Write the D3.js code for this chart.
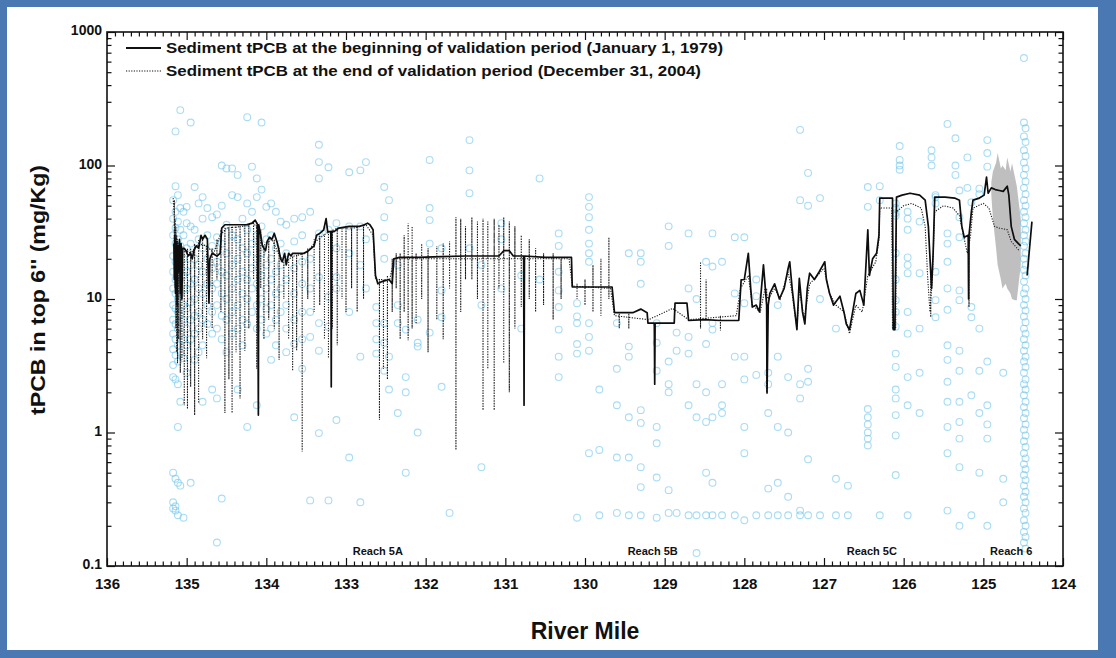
<!DOCTYPE html>
<html>
<head>
<meta charset="utf-8">
<script src="https://cdn.jsdelivr.net/npm/d3@7"></script>
<style>
  html, body { margin: 0; padding: 0; background: #4a78b2; }
  svg { display: block; }
  text { font-family: "Liberation Sans", Arial, Helvetica, sans-serif; }
</style>
</head>
<body>
<svg id="chart" width="1116" height="658"></svg>
<script>
// ---- River-mile axis and tPCB decades ----
const mileTicks = [136, 135, 134, 133, 132, 131, 130, 129, 128, 127, 126, 125, 124];
const decadeTicks = [0.1, 1, 10, 100, 1000];
const decadeLabels = ["0.1", "1", "10", "100", "1000"];

// ---- Reach labels ----
const reachNames = ["Reach 5A", "Reach 5B", "Reach 5C", "Reach 6"];
const reachMiles = [132.6, 129.15, 126.4, 124.65];

// ---- Legend ----
const legendLabels = [
  "Sediment tPCB at the beginning of validation period (January 1, 1979)",
  "Sediment tPCB at the end of validation period (December 31, 2004)"
];

// ---- Model profile, January 1, 1979 (mile, mg/kg); null breaks the line ----
const beginProfile = [
  [135.16, 26], [135.155, 14], [135.15, 30], [135.14, 11], [135.13, 27], [135.12, 9],
  [135.11, 25], [135.10, 16], [135.09, 28], [135.08, 11], [135.07, 26], [135.06, 10],
  [135.05, 24], [135.03, 24], [135.01, 23], [134.98, 21], [134.95, 22], [134.93, 20],
  [134.91, 23], [134.88, 25], [134.85, 24], [134.82, 30], [134.80, 28], [134.77, 30],
  [134.74, 28], [134.72, 9.3], [134.71, 20], [134.68, 22], [134.62, 21], [134.58, 22],
  [134.56, 34], [134.52, 36], [134.40, 36], [134.25, 36], [134.18, 37], [134.14, 39],
  [134.11, 36], [134.10, 1.35], [134.095, 36], [134.07, 30], [134.05, 25], [134.01, 23],
  [133.99, 27], [133.96, 29], [133.93, 28], [133.90, 31], [133.86, 26], [133.82, 20],
  [133.80, 19], [133.77, 22], [133.75, 18], [133.72, 22], [133.69, 21], [133.67, 22],
  [133.60, 22], [133.53, 22], [133.47, 23], [133.40, 25], [133.37, 30], [133.33, 31],
  [133.28, 33], [133.25, 40], [133.23, 32], [133.19, 32], [133.185, 2.2], [133.18, 32],
  [133.15, 32], [133.09, 34], [132.96, 35], [132.83, 35], [132.77, 36], [132.73, 37],
  [132.70, 36], [132.66, 33], [132.63, 15], [132.60, 13], [132.55, 13.5], [132.46, 14],
  [132.42, 13], [132.40, 20], [132.33, 20.5], [132.10, 20.5], [131.80, 20.8],
  [131.50, 21], [131.30, 21], [131.08, 21], [131.02, 23], [130.95, 23], [130.90, 21],
  [130.77, 21], [130.765, 1.6], [130.76, 21], [130.50, 20.5], [130.17, 20.5],
  [130.16, 12.3], [129.66, 12.3], [129.63, 7.9], [129.40, 7.9], [129.30, 8.4],
  [129.22, 7.9], [129.21, 6.6], [129.13, 6.6], [129.125, 2.3], [129.12, 6.6],
  [128.88, 6.6], [128.87, 9.3], [128.72, 9.3], [128.70, 6.9], [128.50, 7.0],
  [128.30, 6.9], [128.07, 6.9], [128.04, 13.9], [128.00, 14], [127.95, 22],
  [127.92, 12], [127.90, 8.7], [127.85, 9], [127.81, 8], [127.76, 18], [127.72, 9],
  [127.715, 1.98], [127.70, 9], [127.68, 11], [127.62, 13], [127.56, 10], [127.50, 12],
  [127.45, 17], [127.43, 19], [127.40, 12], [127.34, 5.9], [127.31, 14.3], [127.27, 8],
  [127.24, 6.5], [127.21, 12], [127.18, 15.6], [127.12, 14], [127.06, 16], [126.99, 19],
  [126.97, 14], [126.93, 11], [126.88, 9], [126.80, 10.5], [126.75, 8], [126.72, 6.5],
  [126.68, 5.9], [126.64, 8], [126.60, 11], [126.55, 11.6], [126.50, 9], [126.45, 33],
  [126.43, 15], [126.39, 20], [126.34, 22], [126.31, 30], [126.30, 57], [126.14, 57],
  [126.13, 5.9], [126.11, 5.9], [126.09, 58], [126.02, 60], [125.92, 62], [125.80, 60],
  [125.73, 55], [125.69, 35], [125.67, 20.5], [125.65, 12], [125.63, 22], [125.61, 58],
  [125.48, 58], [125.36, 57], [125.30, 55], [125.27, 35], [125.24, 29], [125.19, 30],
  [125.185, 10], [125.18, 30], [125.15, 45], [125.13, 55], [125.05, 57], [124.99, 60],
  [124.96, 82], [124.94, 62], [124.90, 68], [124.85, 66], [124.80, 65], [124.75, 64],
  [124.70, 70], [124.68, 60], [124.65, 35], [124.61, 28], [124.56, 26], [124.53, 25],
  [124.50, null], [124.45, 15], [124.42, 24], [124.39, 38]
];

// ---- Model profile, December 31, 2004: underlying level (mile, mg/kg) ----
const endBase = [
  [135.17, 57], [135.14, 30], [135.10, 25], [135.05, 24], [134.95, 22], [134.85, 26],
  [134.75, 25], [134.66, 22], [134.58, 30], [134.50, 34], [134.30, 35], [134.16, 37],
  [134.10, 33], [134.04, 25], [133.93, 28], [133.85, 22], [133.78, 19], [133.65, 21],
  [133.50, 22], [133.38, 27], [133.25, 31], [133.10, 34], [132.90, 34], [132.75, 36],
  [132.66, 30], [132.63, 14], [132.45, 14], [132.40, 20], [130.20, 20], [130.16, 12.5],
  [129.68, 12], [129.63, 7.5], [129.20, 7], [128.90, 8.5], [128.70, 7], [128.10, 7.5],
  [128.05, 12], [127.95, 15], [127.90, 9], [127.80, 8], [127.74, 12], [127.70, 10],
  [127.62, 12], [127.55, 10], [127.45, 16], [127.40, 11], [127.34, 6], [127.31, 12],
  [127.25, 7], [127.18, 13], [127.08, 15], [127.00, 17], [126.93, 11], [126.85, 9],
  [126.75, 8], [126.68, 5.5], [126.60, 9], [126.52, 8], [126.45, 15], [126.35, 19],
  [126.31, 28], [126.30, 48], [126.15, 48], [126.14, 6], [126.10, 6], [126.09, 45],
  [126.00, 50], [125.90, 52], [125.78, 48], [125.73, 35], [125.70, 15], [125.67, 8],
  [125.64, 14], [125.61, 45], [125.50, 50], [125.38, 48], [125.30, 42], [125.25, 30],
  [125.20, 22], [125.16, 30], [125.13, 48], [125.00, 52], [124.93, 48], [124.86, 35],
  [124.80, 34], [124.70, 33], [124.65, 27], [124.55, 23]
];

// ---- December 31, 2004: vertical excursions at single cells [mile, top, bottom] ----
const endSpikes = [
  [135.155, 55, 20], [135.145, 40, 12], [135.135, 35, 6], [135.125, 30, 4],
  [135.115, 28, 3.3], [135.10, 26, 5], [135.08, 26, 2.8], [135.06, 25, 3.5],
  [135.03, 24, 1.6], [134.99, 24, 1.5], [134.95, 24, 2.2], [134.90, 26, 1.35],
  [134.85, 28, 1.66], [134.80, 28, 5], [134.75, 25, 3.6], [134.68, 24, 6],
  [134.62, 28, 14], [134.57, 33, 8], [134.52, 34, 1.4], [134.47, 34, 2.5],
  [134.43, 35, 1.4], [134.38, 35, 4], [134.33, 35, 1.8], [134.27, 35, 4.1],
  [134.22, 36, 6], [134.16, 38, 14], [134.12, 38, 3], [134.07, 33, 12],
  [134.03, 25, 5], [133.97, 28, 7], [133.90, 28, 6], [133.84, 24, 3.5],
  [133.78, 19, 10], [133.72, 20, 5], [133.67, 21, 2.9], [133.62, 21, 4.1],
  [133.55, 22, 0.72], [133.48, 24, 10], [133.40, 28, 8], [133.33, 30, 9],
  [133.27, 30, 5], [133.22, 32, 3.6], [133.17, 33, 6], [133.11, 34, 4.5],
  [133.05, 34, 10], [133.00, 34, 8], [132.93, 34, 12], [132.86, 35, 8],
  [132.78, 36, 10], [132.58, 14, 1.24], [132.53, 14, 3], [132.48, 15, 2.5],
  [132.42, 20, 8], [132.37, 22, 12], [132.32, 22, 5], [132.27, 30, 8],
  [132.22, 37, 4.9], [132.17, 35, 6], [132.12, 22, 6.5], [132.05, 26, 10],
  [131.97, 24, 4], [131.86, 25, 7], [131.78, 26, 5], [131.70, 27, 12],
  [131.62, 41, 0.74], [131.56, 40, 8], [131.50, 35, 14], [131.42, 41, 14],
  [131.35, 38, 10], [131.28, 40, 1.47], [131.22, 38, 3], [131.14, 40, 1.47],
  [131.08, 36, 12], [131.02, 41, 3.3], [130.95, 38, 2], [130.88, 35, 6],
  [130.80, 30, 8.7], [130.70, 28, 10], [130.62, 24, 8], [130.52, 22, 9],
  [130.40, 22, 7], [130.30, 20, 10], [130.10, 13, 10], [130.00, 14, 9],
  [129.90, 18, 8], [129.80, 20, 7.5], [129.70, 29, 10], [129.57, 8, 6],
  [129.45, 8, 6], [128.55, 19, 6], [128.48, 14, 7], [128.30, 7.5, 5.8],
  [127.72, 12, 2], [125.66, 15, 7.3], [125.18, 30, 8.7]
];

// ---- Uncertainty envelope near the downstream end ----
const bandMile = [124.90, 124.88, 124.84, 124.82, 124.78, 124.76, 124.72, 124.70, 124.66, 124.64, 124.60, 124.58, 124.53];
const bandLow  = [60, 40, 24, 18, 14, 12, 13, 12, 11, 10, 9.8, 9.8, 18];
const bandHigh = [75, 90, 105, 124, 95, 100, 92, 115, 90, 104, 80, 70, 40];

// ---- Sediment core samples: [river mile, [tPCB values, mg/kg]] ----
const sampleGroups = [
  [135.17, [55, 40, 30, 21, 16, 12, 9, 7, 5.5, 4.2, 3.2, 2.6, 0.5, 0.3, 0.27]],
  [135.14, [180, 70, 45, 34, 26, 19, 14, 11, 8.5, 6.5, 5, 3.8, 2.5, 0.45, 0.28, 0.26]],
  [135.11, [60, 38, 28, 22, 17, 13, 10, 8, 6, 4.5, 3.4, 2.3, 1.1, 0.42, 0.24]],
  [135.08, [260, 48, 33, 25, 18, 14, 11, 7.5, 5.5, 4, 1.7, 0.4]],
  [135.04, [45, 30, 20, 15, 12, 9, 7, 5, 3.6, 0.23]],
  [135.00, [49, 37, 24, 16, 12, 8.5, 6, 4.5, 2.8]],
  [134.95, [210, 35, 26, 18, 13, 9.5, 7, 5, 0.42]],
  [134.90, [69, 33, 20, 14, 10, 7.5, 5.5, 3.5]],
  [134.85, [52, 28, 18, 12, 8, 6, 4]],
  [134.80, [58, 40, 24, 16, 11, 7, 4.5, 1.7]],
  [134.74, [48, 30, 20, 13, 9, 6.5]],
  [134.68, [41, 25, 17, 12, 8, 5.5, 2.1]],
  [134.62, [43, 29, 19, 13, 9, 6, 1.8, 0.15]],
  [134.56, [100, 50, 26, 16, 11, 7.5, 5, 0.32]],
  [134.50, [95, 36, 22, 15, 10, 7, 4]],
  [134.43, [95, 60, 30, 18, 12, 8, 5.5]],
  [134.36, [85, 58, 28, 20, 14, 9, 6, 2.1]],
  [134.30, [40, 24, 16, 11, 7, 4.5]],
  [134.24, [230, 52, 33, 22, 14, 10, 6.5, 1.1]],
  [134.18, [98, 45, 26, 17, 12, 8]],
  [134.12, [80, 58, 30, 20, 13, 9, 6, 1.6]],
  [134.06, [210, 66, 35, 22, 15, 10, 7]],
  [134.00, [49, 28, 18, 12, 8.5, 5.5]],
  [133.94, [52, 30, 20, 14, 9, 6, 3.5]],
  [133.88, [45, 24, 16, 11, 7, 4.5]],
  [133.82, [38, 26, 18, 12, 8]],
  [133.75, [36, 22, 14, 9, 6, 4]],
  [133.65, [40, 27, 17, 11, 7, 4.6, 1.3]],
  [133.55, [41, 30, 19, 13, 8, 5, 3]],
  [133.45, [45, 20, 12, 8, 5.2, 0.31]],
  [133.34, [143, 106, 80, 31, 14.6, 6.6, 4.1, 0.99]],
  [133.22, [97, 33, 10.4, 6.2, 0.31]],
  [133.12, [37, 24, 14.6, 12, 1.24]],
  [132.96, [89, 35, 22, 8, 0.65]],
  [132.82, [92, 35, 18, 3.7, 0.3]],
  [132.75, [106, 28, 12]],
  [132.62, [8.7, 6.6, 5, 3.9]],
  [132.52, [69, 41, 29, 20, 6.6, 4.7, 2.9]],
  [132.46, [55, 3.7, 2.1]],
  [132.35, [18, 9, 6.6, 1.4]],
  [132.25, [5.9, 2.6, 2.0, 0.5]],
  [132.10, [7.0, 4.4, 4.7, 1.0]],
  [131.95, [110, 48, 39, 26, 5.6]],
  [131.80, [24, 11.6, 7.3, 2.2]],
  [131.70, [0.25]],
  [131.45, [155, 92, 62, 24]],
  [131.30, [18, 9, 0.55]],
  [131.05, [37, 28, 12]],
  [130.80, [15, 6]],
  [130.57, [80, 14]],
  [130.33, [31, 25, 16, 11.6, 8.7, 5.9, 3.7, 2.6]],
  [130.10, [9.3, 7.4, 6.6, 4.6, 3.9, 0.23]],
  [129.95, [58, 49, 41, 33, 26, 22, 19, 6.6, 5.2, 4.1, 0.7]],
  [129.82, [2.1, 0.74, 0.24]],
  [129.60, [6.6, 3.0, 1.6, 0.65, 0.25]],
  [129.45, [22, 4.4, 3.7, 1.3, 0.65, 0.24]],
  [129.30, [22, 19, 13, 1.47, 1.18, 0.55, 0.39, 0.24]],
  [129.10, [6.6, 4.7, 2.9, 1.1, 0.83, 0.46, 0.23]],
  [128.95, [35, 25, 3.4, 2.3, 2.0, 0.37, 0.25]],
  [128.85, [5.6, 4.1, 0.25]],
  [128.70, [31, 12, 5.2, 3.9, 1.6, 0.24]],
  [128.60, [10, 2.3, 1.3, 0.24, 0.125]],
  [128.48, [19, 4.6, 2.0, 1.2, 0.5, 0.24]],
  [128.40, [31, 17.5, 6.6, 5.9, 1.3, 0.42, 0.24]],
  [128.28, [19, 2.3, 1.6, 1.4, 0.24]],
  [128.12, [29, 11, 3.7, 0.24]],
  [128.00, [29, 9.3, 3.7, 2.5, 1.1, 0.7, 0.22]],
  [127.85, [14, 10.5, 2.7, 0.24]],
  [127.70, [2.8, 2.3, 1.4, 0.38, 0.24]],
  [127.58, [9, 3.7, 1.1, 0.42, 0.24]],
  [127.45, [2.6, 1.0, 0.33, 0.24]],
  [127.30, [185, 55, 2.3, 1.8, 0.26, 0.24]],
  [127.20, [88, 50, 3.0, 2.4, 0.63, 0.24]],
  [127.05, [57, 10, 0.24]],
  [126.85, [6, 0.45, 0.24]],
  [126.70, [0.24, 0.4]],
  [126.45, [69, 49, 1.5, 1.3, 1.15, 1.0, 0.9, 0.8]],
  [126.30, [70, 55, 0.24]],
  [126.10, [52, 48, 44, 42, 22, 14, 9.8, 8, 6.2, 3.9, 3.1, 2.1, 1.8, 1.35, 0.95, 0.48]],
  [126.05, [140, 110, 100, 93]],
  [125.95, [45, 40, 33, 20.5, 18, 15.6, 8, 5.5, 2.6, 1.6, 0.24]],
  [125.80, [38, 15.6, 6, 2.8, 1.4]],
  [125.65, [130, 115, 100]],
  [125.60, [60, 58, 52, 16, 9.8, 7.3]],
  [125.45, [205, 31, 26, 19, 12, 8.3, 4.5, 3.5, 2.4, 1.7, 1.1, 0.7, 0.26]],
  [125.35, [160, 100, 85]],
  [125.30, [65, 41, 29, 11.6, 9.8, 4.1, 2.9, 1.7, 1.2, 0.9, 0.55, 0.2]],
  [125.20, [115, 68]],
  [125.15, [53, 8.7, 7.3, 1.9, 0.24]],
  [125.05, [67, 61, 6, 2.9, 1.4, 0.5]],
  [124.95, [155, 124, 98, 3.4, 1.6, 1.15, 0.9, 0.2]],
  [124.75, [2.8, 0.45, 0.3]],
  [124.49, [638, 210, 165, 130, 105, 85, 68, 55, 45, 37, 30, 25, 20, 16.5, 13.5, 11,
            9, 7.4, 6, 5, 4.1, 3.4, 2.8, 2.3, 1.9, 1.55, 1.28, 1.05, 0.86, 0.7, 0.58,
            0.48, 0.4, 0.33, 0.27, 0.22, 0.18, 0.15]],
  [124.47, [190, 150, 118, 95, 76, 61, 50, 41, 33, 27, 22, 18, 15, 12, 10, 8.2, 6.7,
            5.5, 4.5, 3.7, 3.1, 2.5, 2.1, 1.7, 1.4, 1.15, 0.95, 0.78, 0.64, 0.53, 0.44,
            0.36, 0.3, 0.25, 0.2, 0.165, 0.135]]
];

// ---- Layout ----
const svg = d3.select("#chart");
const W = 1116, H = 658;
const plot = { left: 107, right: 1063, top: 32, bottom: 566 };

svg.append("rect").attr("x", 0).attr("y", 0).attr("width", W).attr("height", H).attr("fill", "#4a78b2");
svg.append("rect").attr("x", 7).attr("y", 7).attr("width", 1091).attr("height", 643).attr("fill", "#ffffff");

const x = d3.scaleLinear().domain([136, 124]).range([plot.left, plot.right]);
const y = d3.scaleLog().domain([0.1, 1000]).range([plot.bottom, plot.top]);

// Envelope
const bandData = bandMile.map((m, i) => [m, bandLow[i], bandHigh[i]]);
svg.append("path")
  .datum(bandData)
  .attr("fill", "#b4b4b4")
  .attr("fill-opacity", 0.85)
  .attr("d", d3.area().x(d => x(d[0])).y0(d => y(d[1])).y1(d => y(d[2])));

// Sample circles
const samples = sampleGroups.flatMap(([m, vals]) => vals.map(v => [m, v]));
svg.append("g")
  .selectAll("circle")
  .data(samples)
  .join("circle")
  .attr("cx", d => x(d[0]))
  .attr("cy", d => y(d[1]))
  .attr("r", 3.4)
  .attr("fill", "none")
  .attr("stroke", "#62c0ea")
  .attr("stroke-opacity", 0.55)
  .attr("stroke-width", 1.1);

// Profiles
const line = d3.line()
  .defined(d => d[1] != null)
  .x(d => x(d[0]))
  .y(d => y(d[1]));

// Level of the 2004 profile at any mile (log-linear between listed cells)
const baseLevel = d3.scaleLinear()
  .domain(endBase.map(d => d[0]))
  .range(endBase.map(d => Math.log10(d[1])));

// Spikes become vertical runs at their own mile
const endPath = endBase.map(d => ({ m: d[0], pts: [[d[0], d[1]]] }))
  .concat(endSpikes.map(([m, top, bottom]) => {
    const b = Math.pow(10, baseLevel(m));
    return { m, pts: [[m, b], [m, Math.max(top, b)], [m, bottom], [m, b]] };
  }))
  .sort((a, b) => b.m - a.m)
  .flatMap(d => d.pts);

svg.append("path")
  .datum(endPath)
  .attr("fill", "none")
  .attr("stroke", "#1a1a1a")
  .attr("stroke-width", 1.1)
  .attr("stroke-dasharray", "1.2,1.4")
  .attr("d", line);

svg.append("path")
  .datum(beginProfile)
  .attr("fill", "none")
  .attr("stroke", "#0d0d0d")
  .attr("stroke-width", 1.7)
  .attr("stroke-linejoin", "round")
  .attr("d", line);

// ---- Axes ----
const minorMiles = d3.range(1240, 1361).map(v => v / 10).filter(v => Math.abs(v - Math.round(v)) > 1e-6);
const minorDecades = [];
for (let e = -1; e < 3; e++) for (let k = 2; k <= 9; k++) minorDecades.push(k * Math.pow(10, e));

function styleAxis(g) {
  g.selectAll(".domain").remove();
  g.selectAll("line").attr("stroke", "#111").attr("stroke-width", 1.2);
}

// Bottom
const gb = svg.append("g").attr("transform", `translate(0,${plot.bottom})`);
gb.call(d3.axisBottom(x).tickValues(mileTicks).tickSize(-8).tickSizeOuter(0).tickPadding(12).tickFormat(d3.format("d")));
gb.append("g").call(d3.axisBottom(x).tickValues(minorMiles).tickSize(-4.5).tickSizeOuter(0).tickFormat(""));
styleAxis(gb);
gb.selectAll("text").attr("font-size", 15).attr("font-weight", "bold").attr("fill", "#111");

// Top
const gt = svg.append("g").attr("transform", `translate(0,${plot.top})`);
gt.call(d3.axisTop(x).tickValues(mileTicks).tickSize(-8).tickSizeOuter(0).tickFormat(""));
gt.append("g").call(d3.axisTop(x).tickValues(minorMiles).tickSize(-4.5).tickSizeOuter(0).tickFormat(""));
styleAxis(gt);

// Left
const gl = svg.append("g").attr("transform", `translate(${plot.left},0)`);
gl.call(d3.axisLeft(y).tickValues(decadeTicks).tickSize(-8).tickSizeOuter(0).tickPadding(5)
  .tickFormat((d, i) => decadeLabels[i]));
gl.append("g").call(d3.axisLeft(y).tickValues(minorDecades).tickSize(-4.5).tickSizeOuter(0).tickFormat(""));
styleAxis(gl);
gl.selectAll("text").attr("font-size", 14).attr("font-weight", "bold").attr("fill", "#111").attr("dy", "0.2em");

// Right
const gr = svg.append("g").attr("transform", `translate(${plot.right},0)`);
gr.call(d3.axisRight(y).tickValues(decadeTicks).tickSize(-8).tickSizeOuter(0).tickFormat(""));
gr.append("g").call(d3.axisRight(y).tickValues(minorDecades).tickSize(-4.5).tickSizeOuter(0).tickFormat(""));
styleAxis(gr);

// Frame
svg.append("rect")
  .attr("x", plot.left).attr("y", plot.top)
  .attr("width", plot.right - plot.left).attr("height", plot.bottom - plot.top)
  .attr("fill", "none").attr("stroke", "#111").attr("stroke-width", 1.6);

// Reach labels
svg.append("g").selectAll("text")
  .data(reachNames)
  .join("text")
  .attr("x", (d, i) => x(reachMiles[i]))
  .attr("y", 555)
  .attr("text-anchor", "middle")
  .attr("font-size", 11)
  .attr("font-weight", "bold")
  .attr("fill", "#111")
  .text(d => d);

// Legend
const legendWidths = [557, 535];
const legend = svg.append("g");
legend.append("line").attr("x1", 126).attr("x2", 161).attr("y1", 48).attr("y2", 48)
  .attr("stroke", "#111").attr("stroke-width", 1.8);
legend.append("line").attr("x1", 126).attr("x2", 161).attr("y1", 71).attr("y2", 71)
  .attr("stroke", "#111").attr("stroke-width", 1.1).attr("stroke-dasharray", "1.2,1.4");
legend.selectAll("text")
  .data(legendLabels)
  .join("text")
  .attr("x", 166)
  .attr("y", (d, i) => 53 + i * 23)
  .attr("font-size", 15.5)
  .attr("font-weight", "bold")
  .attr("fill", "#111")
  .attr("textLength", (d, i) => legendWidths[i])
  .attr("lengthAdjust", "spacingAndGlyphs")
  .text(d => d);

// Axis titles
svg.append("text")
  .attr("x", 585).attr("y", 639)
  .attr("text-anchor", "middle")
  .attr("font-size", 23).attr("font-weight", "bold").attr("fill", "#111")
  .text("River Mile");

svg.append("text")
  .attr("transform", "translate(45,290) rotate(-90)")
  .attr("text-anchor", "middle")
  .attr("font-size", 21).attr("font-weight", "bold").attr("fill", "#111")
  .attr("textLength", 250)
  .attr("lengthAdjust", "spacingAndGlyphs")
  .text("tPCB in top 6'' (mg/Kg)");
</script>
</body>
</html>
